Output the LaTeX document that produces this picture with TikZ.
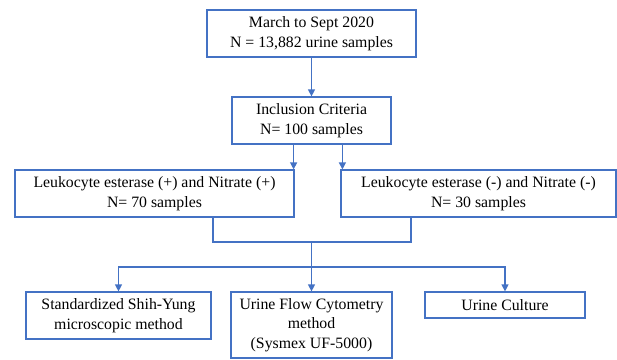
\documentclass[tikz,border=0pt]{standalone}
\usepackage{fontspec}
\setmainfont{Liberation Serif}
\usepackage{xcolor}
\usetikzlibrary{arrows.meta, positioning, calc}
\definecolor{flowblue}{RGB}{68, 114, 196}

\tikzset{
    flowbox/.style={draw=flowblue, line width=1.2pt, fill=white, align=center,
                    inner sep=0pt, font=\fontsize{15.8}{19.5}\selectfont},
    flowline/.style={draw=flowblue, line width=1.2pt},
    flowarrow/.style={flowline, -{Triangle[length=7pt, width=7pt]}}
}

\begin{document}
\begin{tikzpicture}[x=1pt, y=-1pt]
            \useasboundingbox (0,0) rectangle (617,359);
            \node[flowbox, minimum width=209pt, minimum height=47pt] (period) at (311.5,33.5)
                {March to Sept 2020\\N = 13,882 urine samples};
            \node[flowbox, minimum width=159pt, minimum height=47pt] (inclusion) at (311.5,120.5)
                {Inclusion Criteria\\N= 100 samples};
            \node[flowbox, minimum width=279pt, minimum height=47pt] (positive) at (154.5,193.5)
                {Leukocyte esterase (+) and Nitrate (+)\\N= 70 samples};
            \node[flowbox, minimum width=275pt, minimum height=47pt] (negative) at (478.5,193.5)
                {Leukocyte esterase (-) and Nitrate (-)\\N= 30 samples};
            \node[flowbox, minimum width=185pt, minimum height=47pt] (microscopy) at (118.5,315.5)
                {Standardized Shih-Yung\\microscopic method};
            \node[flowbox, minimum width=161pt, minimum height=66pt] (cytometry) at (311.5,325)
                {Urine Flow Cytometry\\method\\(Sysmex UF-5000)};
            \node[flowbox, minimum width=160pt, minimum height=26pt] (culture) at (505,305)
                {Urine Culture};

            \coordinate (posin) at ([xshift=-1pt]positive.north east);
            \coordinate (negin) at ([xshift=2pt]negative.north west);
            \coordinate (posout) at (213,217);
            \coordinate (negout) at (411,217);
            \coordinate (merge) at (311.5,242);
            \coordinate (split) at (311.5,267);

            \draw[flowarrow] (period) -- (inclusion);
            \draw[flowarrow] (inclusion.south -| posin) -- (posin);
            \draw[flowarrow] (inclusion.south -| negin) -- (negin);
            \draw[flowline] (positive.south -| posout) |- (merge) -| (negative.south -| negout);
            \draw[flowarrow] (merge) -- (cytometry);
            \draw[flowarrow] (split) -| (microscopy);
            \draw[flowarrow] (split) -| (culture);
        \end{tikzpicture}
\end{document}
